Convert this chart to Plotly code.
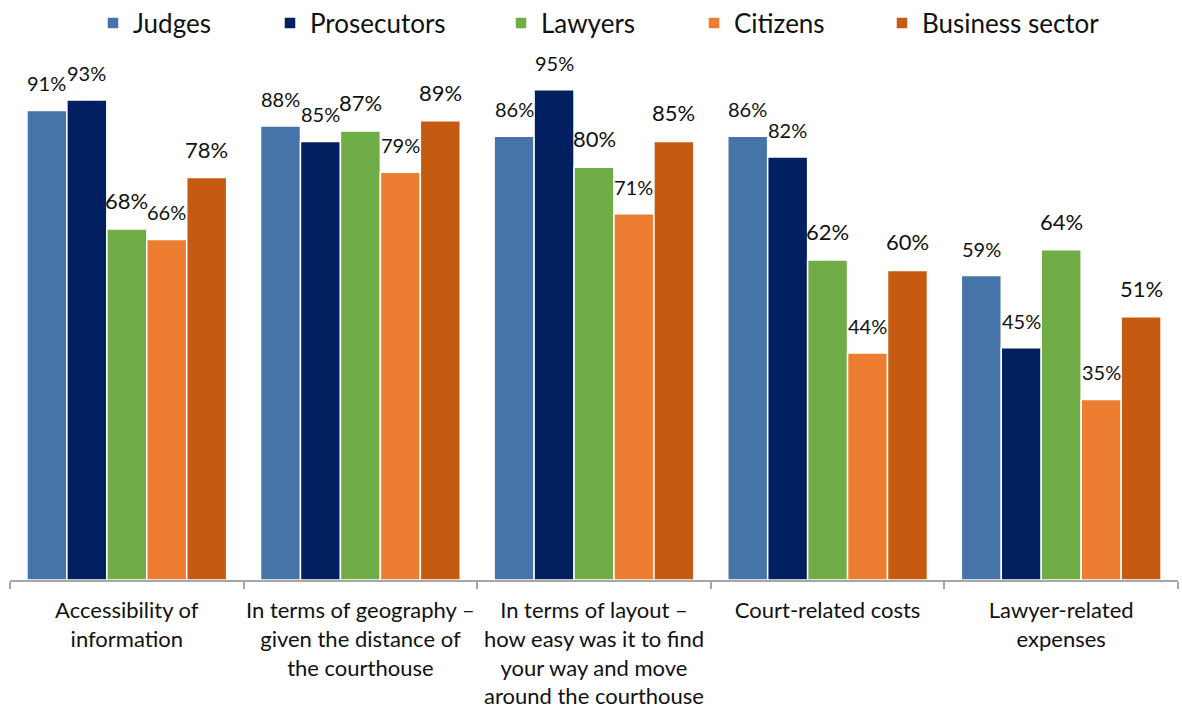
import plotly.graph_objects as go

categories = [
    "Accessibility of<br>information",
    "In terms of geography –<br>given the distance of<br>the courthouse",
    "In terms of layout –<br>how easy was it to find<br>your way and move<br>around the courthouse",
    "Court-related costs",
    "Lawyer-related<br>expenses",
]
series_names = ["Judges", "Prosecutors", "Lawyers", "Citizens", "Business sector"]
judges = [91, 88, 86, 86, 59]
prosecutors = [93, 85, 95, 82, 45]
lawyers = [68, 87, 80, 62, 64]
citizens = [66, 79, 71, 44, 35]
business = [78, 89, 85, 60, 51]

colors = ["#4674A8", "#02205F", "#70AD47", "#ED7D31", "#C55A11"]
label_sizes = [20, 20, 22, 20, 22]
legend_px = [93, 270, 501, 694, 882]   # legend entry left edges (px)

W, H = 1182, 711
ML, MR, MT, MB = 10, 4, 64, 131
BARGAP = 0.145
cat_w = (W - ML - MR) / len(categories)
bar_w = cat_w * (1 - BARGAP) / len(series_names)

fig = go.Figure()
all_series = [judges, prosecutors, lawyers, citizens, business]
for i, (name, vals, col, fs) in enumerate(zip(series_names, all_series, colors, label_sizes)):
    lg = "legend" if i == 0 else f"legend{i+1}"
    fig.add_trace(go.Bar(
        name=name, x=categories, y=vals, legend=lg,
        marker=dict(color=col, line=dict(color="white", width=1.5)),
        hoverinfo="x+y+name",
    ))
    for c, v in zip(categories, vals):
        fig.add_annotation(
            x=c, y=v, xref="x", yref="y", text=f"{v}%", showarrow=False,
            xanchor="center", yanchor="bottom",
            xshift=(i - (len(series_names) - 1) / 2) * bar_w, yshift=13,
            font=dict(size=fs, color="#111111", family="Lato"),
        )

legends = {}
for i, px in enumerate(legend_px):
    key = "legend" if i == 0 else f"legend{i+1}"
    legends[key] = dict(
        orientation="h", xref="container", yref="container",
        x=px / W, xanchor="left", y=1 - 23 / H, yanchor="middle",
        font=dict(size=26, color="#111111", family="Lato"),
        itemwidth=30, bgcolor="rgba(0,0,0,0)",
    )

fig.update_layout(
    width=W, height=H,
    barmode="group", bargap=BARGAP, bargroupgap=0.0,
    plot_bgcolor="white", paper_bgcolor="white",
    font=dict(family="Lato", color="#111111"),
    margin=dict(l=ML, r=MR, t=MT, b=MB, autoexpand=False),
    showlegend=True,
    **legends,
)
fig.update_xaxes(showline=True, linecolor="#A6A6A6", linewidth=1.8,
                 ticks="outside", tickson="boundaries", ticklen=7, tickcolor="#A6A6A6",
                 tickwidth=1.8, tickangle=0, ticklabelstandoff=10,
                 tickfont=dict(size=22, color="#111111", family="Lato"),
                 showgrid=False, automargin=False)
fig.update_yaxes(range=[0, 100], visible=False, showgrid=False, automargin=False)

fig.write_html("out.html", config={"displayModeBar": False},
               post_script="document.body.style.margin='0';document.body.style.padding='0';")
